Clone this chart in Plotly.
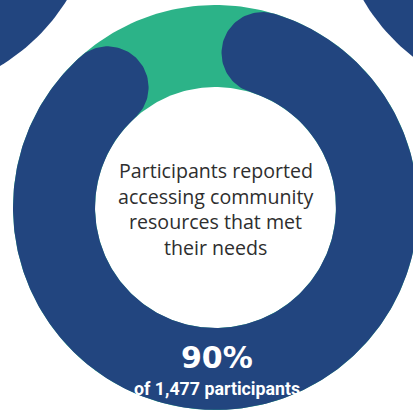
import numpy as np
import plotly.graph_objects as go

# Share of participants who reported accessing community resources that met their needs
categories = ["Met needs", "Did not meet needs"]
shares = [90, 10]
participants = 1477
headline = f"{shares[0]}%"
subline = f"of {participants:,} participants"
description = ["Participants reported", "accessing community", "resources that met", "their needs"]

BLUE = "#22457f"
GREEN = "#2cb388"
WHITE = "#ffffff"

# Ring geometry (outer radius = 1 unit)
R_OUT = 1.0
R_IN = 0.595
R_MID = (R_OUT + R_IN) / 2
HALF_W = (R_OUT - R_IN) / 2
GAP_CENTER = np.deg2rad(102.5)   # direction of the gap's middle


def circle(cx, cy, r, n=240):
    t = np.linspace(0, 2 * np.pi, n)
    return cx + r * np.cos(t), cy + r * np.sin(t)


def rounded_arc(frac):
    """Ring segment with round caps whose area is `frac` of the full ring."""
    ring_area = np.pi * (R_OUT ** 2 - R_IN ** 2)
    cap_area = np.pi * HALF_W ** 2          # two half discs
    sweep = (frac * ring_area - cap_area) / ring_area * 2 * np.pi
    a1 = GAP_CENTER - (2 * np.pi - sweep) / 2   # clockwise start
    a2 = a1 - sweep                             # clockwise end
    xs, ys = [], []
    t = np.linspace(a1, a2, 400)
    xs += list(R_OUT * np.cos(t)); ys += list(R_OUT * np.sin(t))
    # cap at a2 (bulges clockwise)
    s = np.linspace(0, np.pi, 60)
    u = np.array([np.cos(a2), np.sin(a2)])
    tv = np.array([np.sin(a2), -np.cos(a2)])
    c = R_MID * u
    xs += list(c[0] + HALF_W * (u[0] * np.cos(s) + tv[0] * np.sin(s)))
    ys += list(c[1] + HALF_W * (u[1] * np.cos(s) + tv[1] * np.sin(s)))
    t = np.linspace(a2, a1, 400)
    xs += list(R_IN * np.cos(t)); ys += list(R_IN * np.sin(t))
    # cap at a1 (bulges counter-clockwise)
    u = np.array([np.cos(a1), np.sin(a1)])
    tv = np.array([-np.sin(a1), np.cos(a1)])
    c = R_MID * u
    xs += list(c[0] + HALF_W * (-u[0] * np.cos(s) + tv[0] * np.sin(s)))
    ys += list(c[1] + HALF_W * (-u[1] * np.cos(s) + tv[1] * np.sin(s)))
    return xs, ys


fig = go.Figure()


def disc(cx, cy, r, color, name):
    x, y = circle(cx, cy, r)
    fig.add_trace(go.Scatter(x=x, y=y, fill="toself", fillcolor=color, mode="lines",
                             line=dict(width=0, color=color), hoverinfo="skip",
                             name=name, showlegend=False))


# Neighbouring rings peeking in at the corners
for cx, cy in [(-1.583, 1.553), (1.591, 1.532)]:
    disc(cx, cy, R_OUT, BLUE, "neighbour")
    disc(cx, cy, R_IN, WHITE, "neighbour hole")

# Remainder ring (green) with white hole
disc(0, 0, R_OUT, GREEN, categories[1])
disc(0, 0, R_IN, WHITE, "hole")

# Main share as a round-capped arc
bx, by = rounded_arc(shares[0] / 100)
fig.add_trace(go.Scatter(x=bx, y=by, fill="toself", fillcolor=BLUE, mode="lines",
                         line=dict(width=0, color=BLUE), name=categories[0],
                         hoverinfo="name", showlegend=False))

W, H = 413, 410
CX, CY, SCALE = 215.5, 207.5, 202.5

# Description inside the hole, one line at a time for even spacing
LINE_TOP, LINE_STEP = 170.5, 25.7
for i, line in enumerate(description):
    py = LINE_TOP + i * LINE_STEP
    fig.add_annotation(x=0.002, y=(CY - py) / SCALE, xref="x", yref="y", showarrow=False,
                       text=line, font=dict(family="Open Sans", size=19.6, color="#2e2e2e"))

fig.add_annotation(x=0.005, y=-0.741, xref="x", yref="y", showarrow=False,
                   text=f"<b>{headline}</b>",
                   font=dict(family="DejaVu Sans", size=30, color=WHITE))
fig.add_annotation(x=0.005, y=-0.894, xref="x", yref="y", showarrow=False,
                   text=f"<b>{subline}</b>",
                   font=dict(family="Roboto", size=17.8, color=WHITE))

fig.update_xaxes(range=[-CX / SCALE, (W - CX) / SCALE], visible=False, fixedrange=True)
fig.update_yaxes(range=[-(H - CY) / SCALE, CY / SCALE], visible=False, fixedrange=True)
fig.update_layout(width=W, height=H, margin=dict(l=0, r=0, t=0, b=0),
                  paper_bgcolor=WHITE, plot_bgcolor=WHITE, showlegend=False)

fig.write_html("out.html")
